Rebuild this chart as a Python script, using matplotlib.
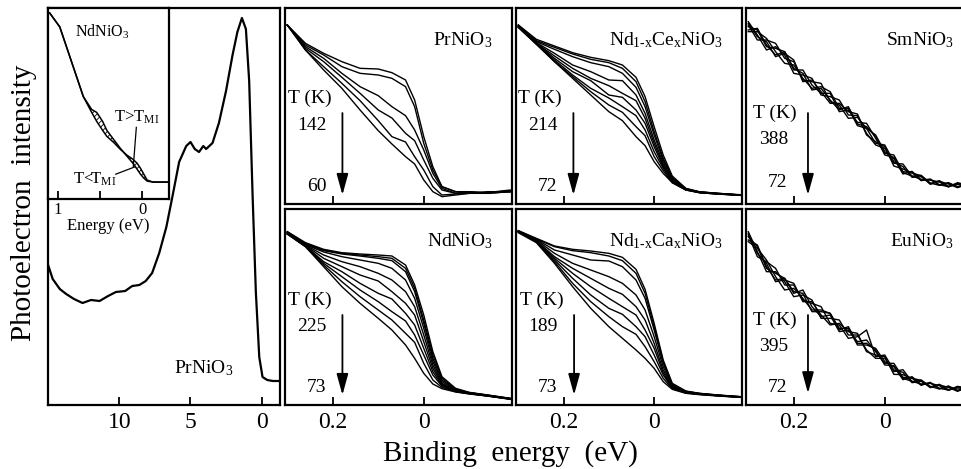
# -*- coding: utf-8 -*-

# Photoemission spectra of RNiO3 nickelates: valence band + near-EF panels

# Modules
import matplotlib.pyplot as plt

plt.rcParams['font.family'] = ['Liberation Serif', 'DejaVu Serif']
plt.rcParams['mathtext.fontset'] = 'custom'
plt.rcParams['mathtext.rm'] = 'Liberation Serif'
plt.rcParams['mathtext.it'] = 'Liberation Serif:italic'
plt.rcParams['hatch.linewidth'] = 0.6

# ---- data (intensities in arb. units) ----

# big panel: PrNiO3 valence band
vb_energy = [15.0, 14.7, 14.2, 13.75, 13.2, 12.6, 12.0, 11.4, 10.8, 10.25, 9.6, 9.1,
             8.6, 8.15, 7.7, 7.2, 6.7, 6.25, 5.8, 5.3, 5.0, 4.7, 4.4, 4.1, 3.9, 3.45,
             3.0, 2.5, 2.04, 1.7, 1.38, 1.1, 0.87, 0.63, 0.4, 0.16, -0.07, -0.4, -0.8, -1.3]
vb_int = [139, 126, 116, 111, 106, 102, 105, 104, 109, 113, 114, 119,
          120, 124, 132, 152, 178, 210, 243, 259, 263, 256, 253, 259, 256, 262,
          282, 314, 350, 373, 387, 376, 324, 210, 113, 48, 28, 25, 24, 24]

# inset: NdNiO3 above / below the MI transition
ins_energy = [1.10, 0.98, 0.82, 0.70, 0.60, 0.54, 0.47, 0.42, 0.34, 0.26, 0.18,
              0.11, 0.06, 0.02, -0.02, -0.06, -0.13, -0.31]
ins_hot = [187, 173, 133, 103, 87, 78, 69, 63, 57, 50, 44, 40, 36, 31, 25, 19, 17, 17]
ins_cold = [187, 173, 133, 103, 90, 87, 78, 69, 60, 51, 43, 36, 30, 25, 21, 18, 17, 17]

# binding energy grid of the small panels (eV)
e_grid = [0.30, 0.26, 0.22, 0.18, 0.14, 0.10, 0.07, 0.04, 0.02, 0.0,
          -0.02, -0.04, -0.07, -0.10, -0.14, -0.19]
# finer grid for the noisy SmNiO3 / EuNiO3 data
e_fine = [0.30, 0.28, 0.26, 0.24, 0.22, 0.20, 0.18, 0.16, 0.14, 0.12, 0.10, 0.08,
          0.06, 0.04, 0.02, 0.0, -0.02, -0.04, -0.06, -0.08, -0.10, -0.12, -0.14,
          -0.16, -0.19]

pr_spectra = [
    [537, 482, 452, 427, 407, 405, 394, 372, 312, 202, 112, 52, 37, 34, 34, 42],
    [537, 477, 447, 412, 392, 387, 377, 352, 292, 182, 102, 52, 37, 37, 32, 37],
    [537, 472, 437, 392, 352, 325, 292, 265, 222, 162, 92, 47, 32, 37, 34, 37],
    [537, 467, 427, 380, 332, 282, 258, 212, 190, 132, 77, 42, 32, 34, 34, 40],
    [537, 462, 412, 362, 310, 250, 202, 186, 142, 102, 52, 27, 30, 32, 32, 37],
    [537, 462, 402, 347, 282, 220, 180, 142, 120, 72, 37, 22, 27, 32, 37, 37],
]

ce_spectra = [
    [537, 494, 474, 454, 440, 430, 417, 380, 322, 232, 147, 84, 47, 37, 32, 27],
    [537, 490, 470, 450, 434, 424, 407, 367, 307, 217, 137, 80, 46, 36, 32, 28],
    [534, 487, 464, 442, 424, 412, 392, 350, 292, 207, 132, 77, 45, 35, 31, 26],
    [534, 484, 452, 417, 397, 372, 370, 327, 272, 192, 124, 74, 44, 36, 32, 27],
    [532, 482, 444, 407, 377, 355, 332, 310, 257, 182, 117, 72, 44, 36, 31, 27],
    [532, 482, 437, 397, 370, 327, 320, 282, 242, 172, 112, 70, 44, 35, 31, 27],
    [532, 480, 432, 387, 347, 318, 292, 265, 222, 157, 107, 67, 43, 34, 30, 27],
    [530, 480, 427, 382, 337, 297, 275, 232, 205, 142, 100, 64, 42, 34, 30, 26],
    [530, 479, 427, 377, 327, 277, 250, 202, 175, 127, 92, 64, 42, 34, 30, 26],
]

sm_spectra = [
    [537, 492, 492, 482, 437, 427, 372, 367, 362, 307, 297, 257, 260, 227, 182, 177,
     127, 112, 80, 82, 61, 70, 53, 62, 55],
    [522, 527, 477, 447, 457, 402, 402, 357, 332, 332, 277, 282, 245, 242, 197, 152,
     147, 97, 94, 70, 75, 57, 63, 52, 63],
    [547, 507, 462, 472, 447, 392, 387, 377, 327, 322, 312, 267, 265, 212, 177, 167,
     122, 120, 83, 86, 63, 56, 64, 51, 60],
    [517, 517, 497, 457, 422, 417, 377, 347, 352, 337, 287, 287, 235, 227, 207, 157,
     137, 90, 98, 72, 72, 66, 51, 64, 54],
    [542, 502, 487, 442, 452, 432, 367, 372, 337, 302, 302, 277, 270, 207, 187, 172,
     114, 105, 93, 85, 59, 68, 60, 49, 64],
    [532, 522, 472, 467, 457, 407, 392, 342, 347, 312, 282, 292, 240, 232, 202, 147,
     140, 94, 84, 74, 73, 58, 52, 59, 53],
]

nd_spectra = [
    [520, 487, 467, 457, 453, 450, 447, 420, 360, 270, 160, 85, 50, 38, 30, 20],
    [520, 485, 465, 455, 450, 445, 440, 410, 350, 255, 150, 80, 48, 37, 30, 20],
    [517, 483, 463, 453, 447, 440, 433, 400, 340, 245, 140, 75, 47, 37, 29, 19],
    [517, 481, 459, 445, 435, 425, 410, 375, 320, 230, 130, 70, 45, 36, 29, 19],
    [515, 480, 450, 430, 415, 395, 375, 340, 295, 210, 120, 65, 44, 35, 28, 19],
    [515, 479, 440, 415, 390, 372, 340, 305, 270, 190, 110, 62, 43, 35, 28, 18],
    [515, 477, 430, 400, 365, 335, 318, 275, 240, 170, 100, 59, 42, 35, 28, 18],
    [513, 477, 425, 385, 345, 310, 280, 252, 210, 150, 90, 57, 41, 34, 27, 18],
    [513, 475, 420, 370, 325, 285, 255, 215, 188, 125, 75, 53, 40, 34, 27, 18],
    [513, 475, 415, 355, 305, 260, 225, 180, 140, 95, 63, 49, 39, 33, 27, 17],
]

ca_spectra = [
    [523, 500, 477, 467, 462, 455, 443, 407, 347, 245, 135, 65, 42, 35, 30, 25],
    [523, 498, 475, 463, 457, 447, 433, 395, 335, 235, 130, 63, 41, 35, 30, 25],
    [521, 497, 465, 450, 435, 432, 415, 375, 320, 225, 125, 60, 40, 34, 29, 25],
    [521, 495, 455, 425, 405, 385, 365, 330, 285, 205, 115, 57, 39, 34, 29, 24],
    [520, 493, 445, 410, 380, 350, 332, 295, 255, 185, 105, 55, 38, 33, 29, 24],
    [520, 491, 440, 395, 355, 320, 295, 270, 225, 170, 97, 53, 37, 33, 28, 24],
    [519, 490, 435, 380, 330, 290, 272, 235, 205, 150, 90, 51, 37, 32, 28, 23],
    [519, 489, 430, 365, 310, 265, 235, 212, 175, 130, 80, 49, 36, 32, 28, 23],
    [517, 487, 425, 355, 290, 235, 200, 165, 140, 110, 70, 47, 35, 31, 27, 23],
]

eu_spectra = [
    [495, 480, 415, 375, 380, 335, 345, 295, 265, 270, 220, 225, 190, 195, 160, 125,
     125, 83, 81, 59, 68, 49, 56, 44, 57],
    [490, 470, 435, 385, 345, 350, 320, 285, 285, 275, 230, 230, 180, 180, 170, 130,
     115, 76, 85, 61, 65, 58, 44, 56, 48],
    [510, 445, 430, 410, 360, 360, 315, 305, 295, 245, 240, 200, 205, 225, 145, 150,
     105, 98, 67, 71, 54, 62, 46, 54, 49],
    [520, 460, 400, 400, 370, 325, 330, 315, 260, 260, 255, 210, 210, 165, 140, 140,
     100, 106, 70, 75, 56, 48, 57, 43, 54],
    [505, 475, 410, 395, 380, 340, 335, 280, 280, 275, 225, 235, 185, 185, 165, 120,
     118, 80, 71, 63, 66, 50, 45, 51, 47],
    [515, 455, 425, 370, 375, 365, 310, 310, 270, 240, 245, 220, 215, 160, 150, 145,
     92, 91, 80, 74, 52, 60, 53, 41, 58],
]

names = ['PrNiO$_3$', 'Nd$_{\\mathrm{1\u2010x}}$Ce$_{\\mathrm{x}}$NiO$_3$', 'SmNiO$_3$',
         'NdNiO$_3$', 'Nd$_{\\mathrm{1\u2010x}}$Ca$_{\\mathrm{x}}$NiO$_3$', 'EuNiO$_3$']
spectra = [pr_spectra, ce_spectra, sm_spectra, nd_spectra, ca_spectra, eu_spectra]
grids = [e_grid, e_grid, e_fine, e_grid, e_grid, e_fine]
t_high = ['142', '214', '388', '225', '189', '395']
t_low = ['60', '72', '72', '73', '73', '72']

# ---- layout (pixel boxes of the original figure) ----
W, H = 961.0, 469.0


def box(x0, y0, x1, y1):
    return [x0 / W, 1 - y1 / H, (x1 - x0) / W, (y1 - y0) / H]


def frame(ax, lw=1.6):
    for s in ax.spines.values():
        s.set_linewidth(lw)
    ax.set_yticks([])


fig = plt.figure(figsize=(9.61, 4.69), dpi=100)

# big valence band panel
ax0 = fig.add_axes(box(48, 8, 280, 405))
ax0.plot(vb_energy, vb_int, color='k', lw=1.6)
ax0.set_xlim(15.03, -1.3)
ax0.set_ylim(0, 397)
ax0.set_xticks([10, 5, 0])
ax0.tick_params(axis='x', direction='in', length=6, width=1.3, labelsize=17, pad=5)
frame(ax0)
ax0.text(0.67, 0.093, 'PrNiO$_3$', transform=ax0.transAxes, ha='center', va='center',
         fontsize=14)

# inset
axi = fig.add_axes(box(48, 8, 169, 199))
axi.set_zorder(3)
axi.fill_between(ins_energy, ins_hot, ins_cold, facecolor='white', edgecolor='k',
                 hatch='//////', lw=0)
axi.plot(ins_energy, ins_hot, color='k', lw=1.1)
axi.plot(ins_energy, ins_cold, color='k', lw=1.1)
axi.set_xlim(1.12, -0.32)
axi.set_ylim(0, 192)
axi.set_xticks([1, 0.5, 0])
axi.set_xticklabels(['1', '', '0'])
axi.tick_params(axis='x', direction='in', length=6, width=1.3, labelsize=12, pad=2)
axi.set_xlabel('Energy (eV)', fontsize=12, labelpad=0)
frame(axi)
axi.text(0.45, 0.875, 'NdNiO$_3$', transform=axi.transAxes, ha='center', va='center',
         fontsize=11.5)
axi.text(0.73, 0.43, 'T>T$_{\\mathrm{MI}}$', transform=axi.transAxes, ha='center',
         va='center', fontsize=12)
axi.text(0.385, 0.105, 'T<T$_{\\mathrm{MI}}$', transform=axi.transAxes, ha='center',
         va='center', fontsize=12)
axi.plot([0.73, 0.705], [0.375, 0.17], color='k', lw=0.9, transform=axi.transAxes)
axi.plot([0.56, 0.713], [0.13, 0.167], color='k', lw=0.9, transform=axi.transAxes)

# small panels
cols = [(285, 512), (516, 742), (746, 973)]
rows = [(8, 204), (209, 405)]
# text / arrow placement per panel (axes fraction)
tk_y = [0.54, 0.54, 0.46, 0.536, 0.536, 0.434]
hi_y = [0.40, 0.40, 0.327, 0.40, 0.40, 0.297]
tk_x = [0.013, 0.01, 0.03, 0.013, 0.018, 0.03]
ar_x = [0.253, 0.254, 0.273, 0.253, 0.257, 0.273]
ar_top = [0.464, 0.464, 0.464, 0.459, 0.459, 0.459]
ar_bot = [0.046, 0.046, 0.046, 0.051, 0.051, 0.06]
lo_y = [0.087, 0.087, 0.11, 0.087, 0.087, 0.087]

for i in range(6):
    r, c = divmod(i, 3)
    ax = fig.add_axes(box(cols[c][0], rows[r][0], cols[c][1], rows[r][1]))
    for s in spectra[i]:
        ax.plot(grids[i], s, color='k', lw=1.0)
    ax.set_xlim(0.305, -0.194)
    ax.set_ylim(0, 588)
    ax.set_xticks([0.2, 0])
    ax.set_xticklabels(['0.2', '0'])
    ax.tick_params(axis='x', direction='in', length=6, width=1.3, labelsize=17, pad=5,
                   labelbottom=(r == 1))
    frame(ax)
    ax.text(0.915, 0.835, names[i], transform=ax.transAxes, ha='right', va='center',
            fontsize=14)
    ax.text(tk_x[i], tk_y[i], 'T (K)', transform=ax.transAxes, ha='left', va='center',
            fontsize=14)
    ax.text(0.12, hi_y[i], t_high[i], transform=ax.transAxes, ha='center', va='center',
            fontsize=14)
    ax.text(0.14, lo_y[i], t_low[i], transform=ax.transAxes, ha='center', va='center',
            fontsize=14)
    ax.annotate('', xy=(ar_x[i], ar_bot[i]), xytext=(ar_x[i], ar_top[i]),
                xycoords='axes fraction',
                arrowprops=dict(arrowstyle='-|>,head_length=0.8,head_width=0.22',
                                color='k', lw=1.3, mutation_scale=16,
                                shrinkA=0, shrinkB=0))

fig.text(0.531, 0.034, 'Binding  energy  (eV)', ha='center', va='center', fontsize=21)
fig.text(0.025, 0.568, 'Photoelectron  intensity', rotation=90, ha='center',
         va='center', fontsize=21)

fig.savefig('out.png', dpi=100)
